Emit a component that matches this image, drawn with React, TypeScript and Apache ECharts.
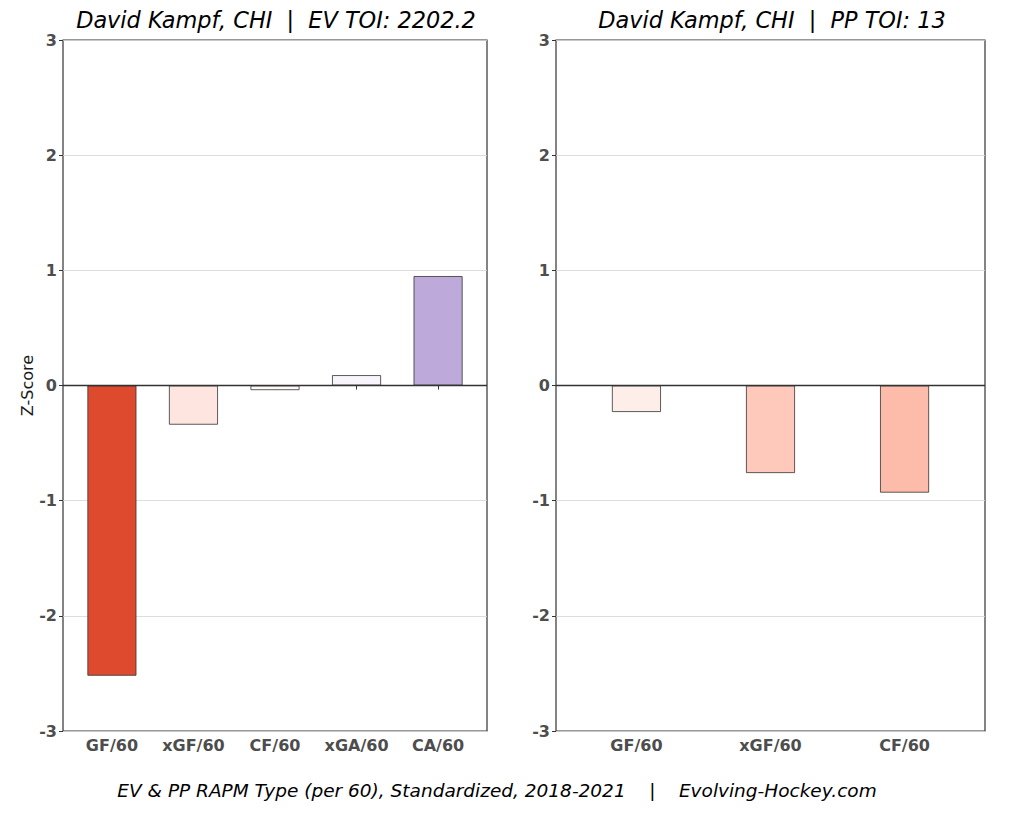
import React, { useEffect, useRef } from "react";
import * as echarts from "echarts";

const evCategories = ["GF/60", "xGF/60", "CF/60", "xGA/60", "CA/60"];
const evValues = [-2.52, -0.34, -0.04, 0.09, 0.95];
const evColors = ["#de4a2e", "#fee5df", "#fff8f6", "#f7f5fb", "#bdaadb"];

const ppCategories = ["GF/60", "xGF/60", "CF/60"];
const ppValues = [-0.23, -0.76, -0.93];
const ppColors = ["#feeeea", "#fec8ba", "#fdbba9"];

const yTicks = [-3, -2, -1, 0, 1, 2, 3];

const evTitle = "David Kampf, CHI  |  EV TOI: 2202.2";
const ppTitle = "David Kampf, CHI  |  PP TOI: 13";
const caption = "EV & PP RAPM Type (per 60), Standardized, 2018-2021    |    Evolving-Hockey.com";

const FONT = "DejaVu Sans";

function xAxisFor(cats: string[], gridIndex: number) {
  const positions = cats.map((_, i) => i + 1);
  return {
    type: "value",
    gridIndex,
    min: 0.4,
    max: cats.length + 0.6,
    splitLine: { show: false },
    axisLine: { show: false },
    axisTick: {
      show: true,
      customValues: positions,
      length: 4,
      lineStyle: { color: "#333333", width: 1 },
    },
    axisLabel: {
      customValues: positions,
      formatter: (v: number) => cats[Math.round(v) - 1] ?? "",
      fontFamily: FONT,
      fontWeight: "bold",
      fontSize: 16,
      color: "#4d4d4d",
      margin: 6,
    },
  };
}

function yAxisFor(gridIndex: number, withName: boolean) {
  return {
    type: "value",
    gridIndex,
    min: -3,
    max: 3,
    interval: 1,
    name: withName ? "Z-Score" : "",
    nameLocation: "middle",
    nameGap: 28,
    nameRotate: 90,
    nameTextStyle: { fontFamily: FONT, fontSize: 16, color: "#1a1a1a" },
    axisLine: { show: false },
    axisTick: { show: true, length: 4, lineStyle: { color: "#333333", width: 1 } },
    splitLine: { show: true, lineStyle: { color: "#d4d4d4", width: 0.8 } },
    axisLabel: {
      fontFamily: FONT,
      fontWeight: "bold",
      fontSize: 16,
      color: "#4d4d4d",
      margin: 6,
      formatter: (v: number) => (yTicks.includes(v) ? String(v) : ""),
    },
  };
}

function barSeries(values: number[], colors: string[], idx: number) {
  return {
    type: "bar",
    xAxisIndex: idx,
    yAxisIndex: idx,
    barWidth: 49,
    data: values.map((v, i) => ({
      value: [i + 1, v],
      itemStyle: { color: colors[i], borderColor: "#333333", borderWidth: 0.8 },
    })),
    markLine: {
      silent: true,
      symbol: "none",
      label: { show: false },
      lineStyle: { color: "#333333", width: 1.3, type: "solid" },
      data: [{ yAxis: 0 }],
    },
  };
}

export default function App() {
  const ref = useRef<HTMLDivElement>(null);
  useEffect(() => {
    document.body.style.margin = "0";
    if (!ref.current) return;
    const chart = echarts.init(ref.current, undefined, { renderer: "svg" });
    chart.setOption({
      animation: false,
      backgroundColor: "#ffffff",
      grid: [
        { left: 63, right: 536, top: 40, bottom: 86, show: true, borderColor: "#333333", borderWidth: 1.2, backgroundColor: "transparent" },
        { left: 556, right: 38, top: 40, bottom: 86, show: true, borderColor: "#333333", borderWidth: 1.2, backgroundColor: "transparent" },
      ],
      xAxis: [xAxisFor(evCategories, 0), xAxisFor(ppCategories, 1)],
      yAxis: [yAxisFor(0, true), yAxisFor(1, false)],
      series: [barSeries(evValues, evColors, 0), barSeries(ppValues, ppColors, 1)],
      graphic: [
        {
          type: "text",
          x: 276,
          y: 20,
          style: {
            text: evTitle,
            font: `italic 22.4px "${FONT}"`,
            fill: "#000000",
            textAlign: "center",
            textVerticalAlign: "middle",
          },
        },
        {
          type: "text",
          x: 772,
          y: 20,
          style: {
            text: ppTitle,
            font: `italic 22.4px "${FONT}"`,
            fill: "#000000",
            textAlign: "center",
            textVerticalAlign: "middle",
          },
        },
        {
          type: "text",
          x: 497,
          y: 790,
          style: {
            text: caption,
            font: `italic 18.5px "${FONT}"`,
            fill: "#000000",
            textAlign: "center",
            textVerticalAlign: "middle",
          },
        },
      ],
    });
    return () => chart.dispose();
  }, []);
  return <div ref={ref} style={{ width: 1023, height: 817 }} />;
}
